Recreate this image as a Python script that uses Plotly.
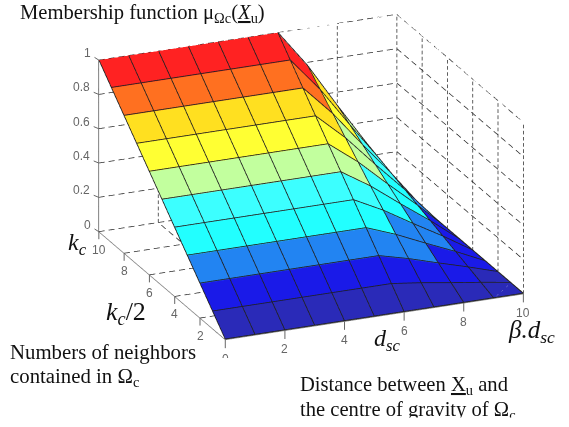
import plotly.graph_objects as go

# grid of the surface
x_grid = [0, 1, 2, 3, 4, 5, 6, 7, 8, 9, 10]
y_grid = [0, 1, 2, 3, 4, 5, 6, 7, 8, 9, 10]

# membership values, one list per y row
z_y0 = [0, 0, 0, 0, 0, 0, 0, 0, 0, 0, 0]
z_y1 = [.1, .1, .1, .1, .1, .1, .1, .078, .052, .027, 0]
z_y2 = [.2, .2, .2, .2, .2, .2, .2, .156, .104, .054, 0]
z_y3 = [.3, .3, .3, .3, .3, .3, .3, .234, .156, .081, 0]
z_y4 = [.4, .4, .4, .4, .4, .4, .4, .312, .208, .108, 0]
z_y5 = [.5, .5, .5, .5, .5, .5, .5, .39, .26, .135, 0]
z_y6 = [.6, .6, .6, .6, .6, .6, .6, .468, .312, .162, 0]
z_y7 = [.7, .7, .7, .7, .7, .7, .7, .546, .364, .189, 0]
z_y8 = [.8, .8, .8, .8, .8, .8, .8, .624, .416, .216, 0]
z_y9 = [.9, .9, .9, .9, .9, .9, .9, .702, .468, .243, 0]
z_y10 = [1, 1, 1, 1, 1, 1, 1, .78, .52, .27, 0]
z_rows = [z_y0, z_y1, z_y2, z_y3, z_y4, z_y5, z_y6, z_y7, z_y8, z_y9, z_y10]

x_ticks = [0, 2, 4, 6, 8, 10]
y_ticks = [2, 4, 6, 8, 10]
z_ticks = [0, 0.2, 0.4, 0.6, 0.8, 1]
z_labels = ["0", "0.2", "0.4", "0.6", "0.8", "1"]

palette = ["#2a2ab8", "#1a1ae8", "#2284f2", "#22ffff", "#3cffff",
           "#c2ff9e", "#ffff33", "#ffe020", "#ff7020", "#ff2222"]

n = len(x_grid)

# flat coloured cells, two triangles each
vx, vy, vz = [], [], []
for j in range(n):
    for i in range(n):
        vx.append(x_grid[i])
        vy.append(y_grid[j])
        vz.append(z_rows[j][i])

ti, tj, tk, colors = [], [], [], []
for j in range(n - 1):
    for i in range(n - 1):
        a = j * n + i
        b = a + 1
        c = a + n
        d = c + 1
        col = palette[min(int(z_rows[j][i] * 10 + 0.5), 9)]
        ti += [a, a]
        tj += [b, d]
        tk += [d, c]
        colors += [col, col]

fig = go.Figure()
fig.add_trace(go.Mesh3d(x=vx, y=vy, z=vz, i=ti, j=tj, k=tk, facecolor=colors,
                        flatshading=True, showscale=False, hoverinfo="skip",
                        lighting=dict(ambient=1, diffuse=0, specular=0, roughness=1, fresnel=0)))

# black cell edges, lifted a hair so they stay on top of the mesh
lift = 0.004
ex, ey, ez = [], [], []
for j in range(n):
    for i in range(n):
        ex.append(x_grid[i]); ey.append(y_grid[j]); ez.append(z_rows[j][i] + lift)
    ex.append(None); ey.append(None); ez.append(None)
for i in range(n):
    for j in range(n):
        ex.append(x_grid[i]); ey.append(y_grid[j]); ez.append(z_rows[j][i] + lift)
    ex.append(None); ey.append(None); ez.append(None)
fig.add_trace(go.Scatter3d(x=ex, y=ey, z=ez, mode="lines", hoverinfo="skip",
                           line=dict(color="#222222", width=1.7)))

# dashed grid on the walls and the floor, dash="dash" stretches too far in gl
gx, gy, gz = [], [], []
def seg(p, q, count):
    for s in range(count):
        t0 = s / count
        t1 = (s + 0.6) / count
        gx.extend([p[0] + (q[0] - p[0]) * t0, p[0] + (q[0] - p[0]) * t1, None])
        gy.extend([p[1] + (q[1] - p[1]) * t0, p[1] + (q[1] - p[1]) * t1, None])
        gz.extend([p[2] + (q[2] - p[2]) * t0, p[2] + (q[2] - p[2]) * t1, None])

for z in z_ticks:
    seg((0, 10, z), (10, 10, z), 30)
    seg((10, 10, z), (10, 0, z), 17)
for x in x_ticks:
    seg((x, 10, 0), (x, 10, 1), 28)
    seg((x, 0, 0), (x, 10, 0), 17)
for y in [0] + y_ticks:
    seg((10, y, 0), (10, y, 1), 28)
    seg((0, y, 0), (10, y, 0), 30)
fig.add_trace(go.Scatter3d(x=gx, y=gy, z=gz, mode="lines", hoverinfo="skip",
                           line=dict(color="#2a2a2a", width=1.5)))

axis = dict(showbackground=False, showgrid=False, zeroline=False, showline=True,
            linecolor="#808080", linewidth=2, ticks="", showticklabels=False,
            title=dict(text=""), showspikes=False)

# tick labels with their little tick marks
tick_font = dict(family="Liberation Sans", size=12, color="#666666")
def tick(x, y, z, text, ax, ay, **kw):
    return dict(x=x, y=y, z=z, text=text, showarrow=True, arrowhead=0, arrowwidth=1,
                arrowcolor="#666666", ax=ax, ay=ay, startstandoff=2, font=tick_font, **kw)

tick_notes = []
for v in x_ticks:
    if v == 0:
        tick_notes.append(tick(v, 0, 0, str(v), 0, 15, height=6, valign="top"))
    else:
        tick_notes.append(tick(v, 0, 0, str(v), 0, 19))
for v in y_ticks:
    tick_notes.append(tick(0, v, 0, str(v), 0, 18))
for v, label in zip(z_ticks, z_labels):
    tick_notes.append(tick(0, 10, v, label, -11 if len(label) == 1 else -17, -7))

fig.update_layout(
    width=569, height=427, showlegend=False,
    margin=dict(l=0, r=0, t=0, b=0),
    paper_bgcolor="white",
    scene=dict(
        domain=dict(x=[0.0935, 1], y=[0.171, 1]),
        xaxis=dict(axis, range=[0, 10]),
        yaxis=dict(axis, range=[0, 10]),
        zaxis=dict(axis, range=[0, 1]),
        aspectmode="manual",
        aspectratio=dict(x=1.83, y=1.83, z=1.04),
        camera=dict(projection=dict(type="orthographic"),
                    up=dict(x=0, y=0, z=1),
                    center=dict(x=0, y=0, z=0),
                    eye=dict(x=-0.364 * 1.5, y=-0.858 * 1.5, z=0.362 * 1.5)),
        annotations=tick_notes,
    ),
)

serif = "Liberation Serif"
def note(text, x, y, size, yanchor="middle", **kw):
    fig.add_annotation(text=text, x=x / 569, y=1 - y / 427, xref="paper", yref="paper",
                       xanchor="left", yanchor=yanchor, showarrow=False, align="left",
                       font=dict(family=serif, size=size, color="#111111"), **kw)

note("Membership function μ<sub>Ωc</sub>(<u><i>X</i></u><sub>u</sub>)", 18, 13, 20.6)
note("<i>k<sub>c</sub></i>", 66, 244, 24)
note("<i>k<sub>c</sub></i>/2", 104, 313, 26)
note("<i>d<sub>sc</sub></i>", 372, 340, 24)
note("<i>β.d<sub>sc</sub></i>", 506, 331, 25)
note("Numbers of neighbors", 8, 352, 20.8)
note("contained in Ω<sub>c</sub>", 8, 377, 20.8)
note("Distance between <u>X</u><sub>u</sub> and", 298, 385, 20.6)
note("the centre of gravity of Ω<sub>c</sub>", 298, 410, 20.6)
# white strip over the last line, the text is cut off at the bottom in the original
note("&nbsp;", 280, 417, 8, yanchor="top", width=280, height=10, bgcolor="white")

fig.write_html("out.html", config=dict(displayModeBar=False),
               post_script="document.body.style.margin='0';")
